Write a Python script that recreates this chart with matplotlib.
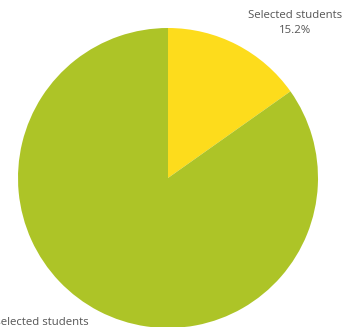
import matplotlib.pyplot as plt

# data
labels = ['Selected students', 'Unselected students']
shares = [15.2, 84.8]
colors = ['#FDDC1C', '#ADC427']

fig = plt.figure(figsize=(3.55, 3.27), dpi=100)
ax = fig.add_axes([0, 0, 1, 1])

# pie drawn in pixel-like coordinates
ax.pie(shares, colors=colors, startangle=90, counterclock=False,
       center=(168, 149), radius=150, frame=False,
       wedgeprops={'linewidth': 0})
ax.set_xlim(0, 355)
ax.set_ylim(0, 327)
ax.set_aspect('equal')
ax.axis('off')

# labels
font = ['Open Sans', 'DejaVu Sans']
ax.text(295, 304, labels[0] + '\n' + '%.1f%%' % shares[0], ha='center', va='center',
        fontsize=8.2, family=font, color='#555555', linespacing=1.5)
ax.text(34, -3, labels[1] + '\n' + '%.1f%%' % shares[1], ha='center', va='center',
        fontsize=8.2, family=font, color='#555555', linespacing=1.5)

fig.savefig('out.png', dpi=100)
